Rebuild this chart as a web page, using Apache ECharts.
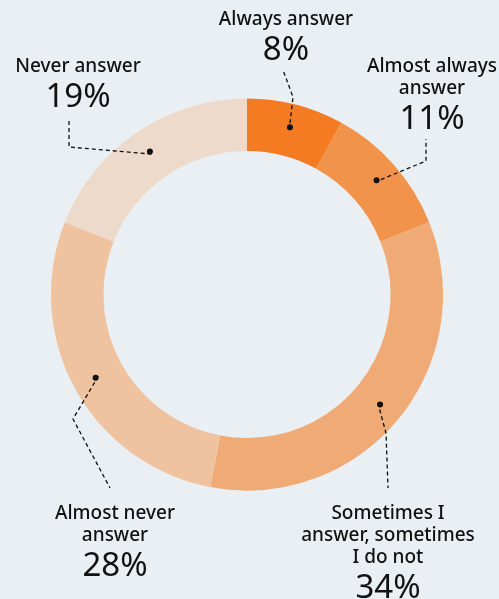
<!DOCTYPE html>
<html>
<head>
<meta charset="utf-8">
<script src="https://cdn.jsdelivr.net/npm/echarts@6/dist/echarts.min.js"></script>
<style>
  html, body { margin: 0; padding: 0; background: #E9EFF2; }
  #chart { width: 499px; height: 599px; }
</style>
</head>
<body>
<div id="chart"></div>
<script>
// Survey answers: how often respondents answer
const categories = [
  'Always answer',
  'Almost always\nanswer',
  'Sometimes I\nanswer, sometimes\nI do not',
  'Almost never\nanswer',
  'Never answer'
];
const shares = [8, 11, 34, 28, 19];

// Slice palette, darkest orange first
const palette = ['#F47B22', '#F2934B', '#F0AA75', '#EFC39F', '#EDDACB'];

// Ring geometry
const ringCenter = [247, 294.5];
const ringRadii = [143.5, 196];

// Where each callout text sits (top-centre anchor) and how its leader bends
const callouts = [
  { x: 286, y: 9,   elbow: [293, 97],  end: [283, 70] },
  { x: 432, y: 56,  elbow: [426, 161], end: [426, 139] },
  { x: 388, y: 503, elbow: [386, 433], end: [388, 488] },
  { x: 115, y: 503, elbow: [73, 419],  end: [110, 488] },
  { x: 78,  y: 56,  elbow: [69, 147],  end: [69, 118] }
];

const chart = echarts.init(document.getElementById('chart'), null, { renderer: 'canvas' });

const seriesData = categories.map((name, i) => ({
  name: name,
  value: shares[i],
  itemStyle: { color: palette[i] }
}));

// Same slices with no fill, used for overlays drawn above the ring
const clearData = categories.map((name, i) => ({
  name: name,
  value: shares[i],
  itemStyle: { color: 'rgba(0,0,0,0)' }
}));

// Point in the middle of the ring along the direction of the default leader start
function ringMidPoint(p) {
  const dx = p[0] - ringCenter[0];
  const dy = p[1] - ringCenter[1];
  const len = Math.sqrt(dx * dx + dy * dy) || 1;
  const rm = (ringRadii[0] + ringRadii[1]) / 2;
  return [ringCenter[0] + dx / len * rm, ringCenter[1] + dy / len * rm];
}

const textFont = '"Noto Sans", "DejaVu Sans", sans-serif';

const ringBase = {
  type: 'pie',
  center: ringCenter,
  radius: ringRadii,
  startAngle: 90,
  clockwise: true,
  avoidLabelOverlap: false,
  silent: true
};

chart.setOption({
  backgroundColor: '#E9EFF2',
  animation: false,
  series: [
    Object.assign({}, ringBase, {
      // The coloured ring
      z: 1,
      data: seriesData,
      label: { show: false },
      labelLine: { show: false }
    }),
    Object.assign({}, ringBase, {
      // Callout texts with dashed leaders
      z: 4,
      data: clearData,
      label: {
        show: true,
        position: 'outside',
        alignTo: 'none',
        formatter: p => '{n|' + p.name.split('\n').join('}\n{n|') + '}\n{v|' + p.value + '%}',
        rich: {
          n: { fontFamily: textFont, fontSize: 19, fontWeight: 500, lineHeight: 22, color: '#111', align: 'center' },
          v: { fontFamily: textFont, fontSize: 33, lineHeight: 39, color: '#111', align: 'center' }
        }
      },
      labelLine: {
        show: true,
        smooth: false,
        lineStyle: { color: '#111', width: 1.3, type: [4, 3] }
      },
      labelLayout: params => {
        const c = callouts[params.dataIndex];
        const start = ringMidPoint(params.labelLinePoints[0]);
        return {
          x: c.x,
          y: c.y,
          align: 'center',
          verticalAlign: 'top',
          labelLinePoints: [start, c.elbow, c.end]
        };
      }
    }),
    Object.assign({}, ringBase, {
      // Dots where each leader starts, centred in the ring
      z: 5,
      data: clearData,
      label: {
        show: true,
        position: 'inside',
        formatter: '{d|}',
        rich: {
          d: { width: 6, height: 6, borderRadius: 3, backgroundColor: '#111' }
        }
      },
      labelLine: { show: false }
    })
  ]
});
</script>
</body>
</html>
